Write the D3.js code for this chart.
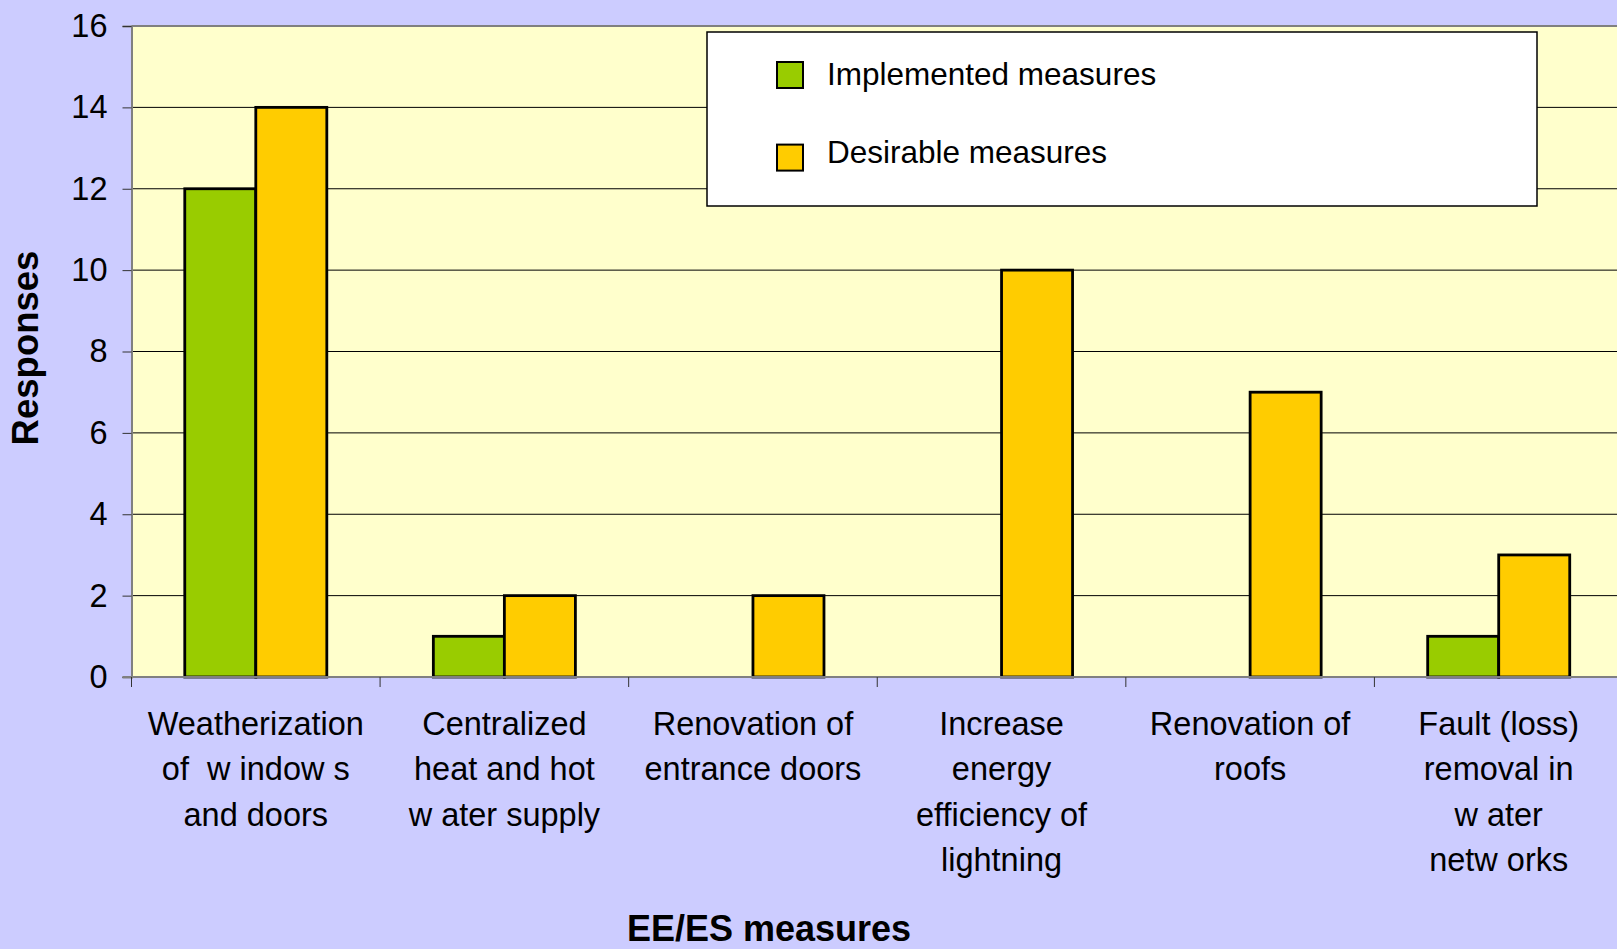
<!DOCTYPE html>
<html>
<head>
<meta charset="utf-8">
<script src="https://cdn.jsdelivr.net/npm/d3@7"></script>
<style>
  html, body { margin: 0; padding: 0; background: #ccccff; overflow: hidden; }
  svg { display: block; font-family: "Liberation Sans", Arial, sans-serif; }
</style>
</head>
<body>
<script>
const categories = [
  ["Weatherization", "of  w indow s", "and doors"],
  ["Centralized", "heat and hot", "w ater supply"],
  ["Renovation of", "entrance doors"],
  ["Increase", "energy", "efficiency of", "lightning"],
  ["Renovation of", "roofs"],
  ["Fault (loss)", "removal in", "w ater", "netw orks"],
];
const seriesNames = ["Implemented measures", "Desirable measures"];
const implemented = [12, 1, 0, 0, 0, 1];
const desirable = [14, 2, 2, 10, 7, 3];
const yTicks = [0, 2, 4, 6, 8, 10, 12, 14, 16];

const width = 1617;
const height = 949;
const plot = { left: 131.5, top: 26, right: 1623, bottom: 677 };
const colors = ["#99cc00", "#ffcc00"];

const svg = d3
  .select("body")
  .append("svg")
  .attr("width", width)
  .attr("height", height);

svg.append("rect").attr("width", width).attr("height", height).attr("fill", "#ccccff");

const xScale = d3
  .scaleBand()
  .domain(d3.range(categories.length))
  .range([plot.left, plot.right])
  .padding(0);

const xInner = d3
  .scaleBand()
  .domain(d3.range(seriesNames.length))
  .range([0, xScale.bandwidth()])
  .paddingInner(0)
  .paddingOuter(0.75);

const yScale = d3.scaleLinear().domain([0, 16]).range([plot.bottom, plot.top]);

// plot area
svg
  .append("rect")
  .attr("x", plot.left)
  .attr("y", plot.top)
  .attr("width", plot.right - plot.left)
  .attr("height", plot.bottom - plot.top)
  .attr("fill", "#ffffcc");

// gridlines
svg
  .append("g")
  .selectAll("line")
  .data(yTicks.filter((d) => d > 0 && d < 16))
  .enter()
  .append("line")
  .attr("x1", plot.left)
  .attr("x2", plot.right)
  .attr("y1", (d) => yScale(d))
  .attr("y2", (d) => yScale(d))
  .attr("stroke", "#000")
  .attr("stroke-width", 1);

// top border
svg
  .append("line")
  .attr("x1", plot.left)
  .attr("x2", plot.right)
  .attr("y1", plot.top)
  .attr("y2", plot.top)
  .attr("stroke", "#808080")
  .attr("stroke-width", 2);

// bars
const series = [implemented, desirable];
const groups = svg
  .append("g")
  .selectAll("g")
  .data(series)
  .enter()
  .append("g")
  .attr("fill", (_, i) => colors[i]);

groups
  .selectAll("rect")
  .data((d, si) => d.map((v, ci) => ({ v, ci, si })))
  .enter()
  .filter((d) => d.v > 0)
  .append("rect")
  .attr("x", (d) => xScale(d.ci) + xInner(d.si))
  .attr("y", (d) => yScale(d.v))
  .attr("width", xInner.bandwidth())
  .attr("height", (d) => yScale(0) - yScale(d.v))
  .attr("stroke", "#000")
  .attr("stroke-width", 2.8);

// y axis
const yAxis = svg
  .append("g")
  .attr("transform", `translate(${plot.left},0)`)
  .call(d3.axisLeft(yScale).tickValues(yTicks).tickSize(9).tickPadding(15));
yAxis.select(".domain").attr("stroke", "#808080").attr("stroke-width", 2);
yAxis.selectAll(".tick line").attr("stroke", "#333");
yAxis
  .selectAll(".tick text")
  .attr("font-size", 32.5)
  .attr("fill", "#000")
  .attr("font-family", "'Liberation Sans', Arial, sans-serif");

// x axis
svg
  .append("line")
  .attr("x1", plot.left - 9)
  .attr("x2", plot.right)
  .attr("y1", plot.bottom)
  .attr("y2", plot.bottom)
  .attr("stroke", "#808080")
  .attr("stroke-width", 2);

svg
  .append("g")
  .selectAll("line")
  .data(d3.range(categories.length + 1))
  .enter()
  .append("line")
  .attr("x1", (d) => plot.left + d * xScale.step())
  .attr("x2", (d) => plot.left + d * xScale.step())
  .attr("y1", plot.bottom)
  .attr("y2", plot.bottom + 10)
  .attr("stroke", "#333")
  .attr("stroke-width", 1);

const labels = svg
  .append("g")
  .selectAll("text")
  .data(categories)
  .enter()
  .append("text")
  .attr("text-anchor", "middle")
  .attr("font-size", 32.5)
  .attr("fill", "#000");

labels
  .selectAll("tspan")
  .data((d, i) => d.map((line) => ({ line, i })))
  .enter()
  .append("tspan")
  .attr("x", (d) => xScale(d.i) + xScale.bandwidth() / 2)
  .attr("y", (_, j) => 735 + j * 45.3)
  .style("white-space", "pre")
  .text((d) => d.line);

// axis titles
svg
  .append("text")
  .attr("transform", "translate(38 348) rotate(-90)")
  .attr("text-anchor", "middle")
  .attr("font-size", 36.5)
  .attr("font-weight", "bold")
  .attr("fill", "#000")
  .text("Responses");

svg
  .append("text")
  .attr("x", 769)
  .attr("y", 941)
  .attr("text-anchor", "middle")
  .attr("font-size", 36)
  .attr("font-weight", "bold")
  .attr("fill", "#000")
  .text("EE/ES measures");

// legend
const legend = svg.append("g");
legend
  .append("rect")
  .attr("x", 707)
  .attr("y", 32)
  .attr("width", 830)
  .attr("height", 174)
  .attr("fill", "#fff")
  .attr("stroke", "#000")
  .attr("stroke-width", 1.5);

const legendItems = legend
  .selectAll("g")
  .data(seriesNames)
  .enter()
  .append("g");

legendItems
  .append("rect")
  .attr("x", 777)
  .attr("y", (_, i) => 62 + i * 82.6)
  .attr("width", 26)
  .attr("height", 26)
  .attr("fill", (_, i) => colors[i])
  .attr("stroke", "#000")
  .attr("stroke-width", 2);

legendItems
  .append("text")
  .attr("x", 827)
  .attr("y", (_, i) => 85 + i * 78.3)
  .attr("font-size", 31.5)
  .attr("fill", "#000")
  .text((d) => d);
</script>
</body>
</html>
